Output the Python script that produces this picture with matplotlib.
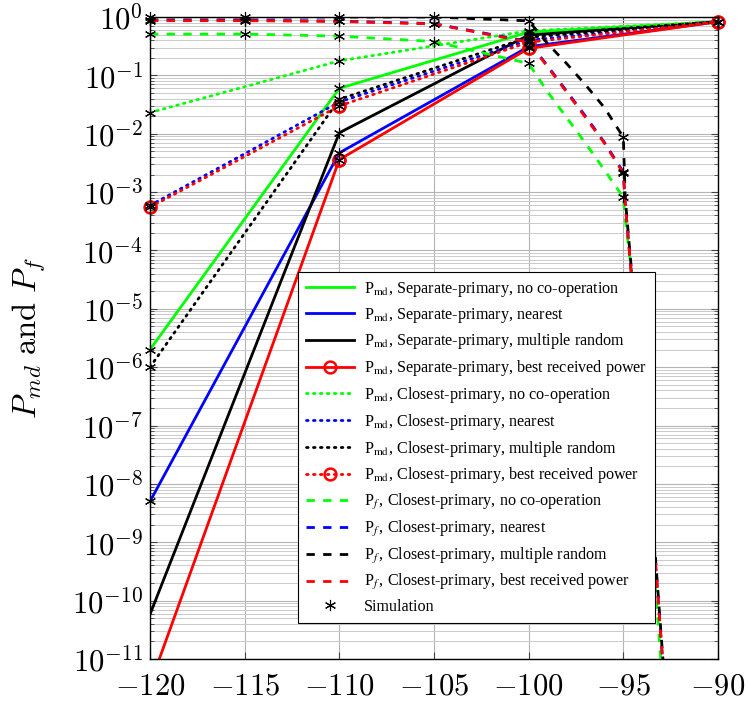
import numpy as np
import matplotlib
matplotlib.use("Agg")
import matplotlib.pyplot as plt
from matplotlib.ticker import LogLocator, FuncFormatter, NullFormatter
from matplotlib.font_manager import FontProperties

plt.rcParams["mathtext.fontset"] = "cm"

# ---- P_md curves (solid: separate-primary, dotted: closest-primary) ----
x_md = [-120, -110, -100, -90]
md_sep_nocoop = [2.0e-6, 0.060, 0.55, 0.83]
md_sep_nearest = [5.0e-9, 4.7e-3, 0.31, 0.83]
md_sep_multi = [5.8e-11, 0.0104, 0.49, 0.83]
md_sep_best = [3.6e-12, 3.6e-3, 0.29, 0.83]
md_clo_nocoop = [0.023, 0.177, 0.58, 0.83]
md_clo_nearest = [5.9e-4, 0.035, 0.40, 0.83]
md_clo_multi = [1.0e-6, 0.039, 0.45, 0.83]
md_clo_best = [5.5e-4, 0.030, 0.37, 0.83]

# ---- P_f curves (dashed, closest-primary) ----
x_pf = [-120, -115, -110, -105, -100, -99, -98, -97, -96, -95,
        -94.9, -94.5, -94, -93.5, -93, -92.5]
pf_nocoop = [0.51, 0.51, 0.47, 0.38, 0.16, 0.052, 0.019, 6.9e-3, 2.4e-3, 8.1e-4,
             3.5e-4, 2.8e-5, 1.6e-7, 1.3e-9, 7.9e-12, 5.0e-14]
pf_nearest = [0.88, 0.88, 0.85, 0.77, 0.38, 0.145, 0.054, 0.020, 7.1e-3, 2.2e-3,
              6.5e-4, 2.1e-5, 2.6e-7, 3.3e-9, 2.1e-11, 1.4e-13]
pf_multi = [1.0, 1.0, 1.0, 1.0, 0.86, 0.35, 0.16, 0.069, 0.028, 8.7e-3,
            7.9e-4, 2.5e-5, 3.2e-7, 4.0e-9, 2.5e-11, 1.6e-13]
pf_best = [0.865, 0.865, 0.84, 0.76, 0.37, 0.14, 0.052, 0.019, 6.9e-3, 2.1e-3,
           6.3e-4, 2.0e-5, 2.5e-7, 3.2e-9, 2.0e-11, 1.3e-13]

# x positions where simulation points were taken for P_f
x_sim_pf = [-120, -115, -110, -105, -100, -95]

xticks = [-120, -115, -110, -105, -100, -95, -90]
ydecades = list(range(0, 12))
ymin, ymax = 1e-11, 1.0

fig = plt.figure(figsize=(7.48, 7.03), dpi=100)
ax = fig.add_axes([0.2005, 0.0626, 0.7594, 0.9132])

lw = 2.0
dotted = (0, (0.6, 1.9))
dashed = (0, (3, 3))
circ = dict(marker="o", markersize=8.5, markerfacecolor="none", markeredgewidth=1.8)

ax.plot(x_md, md_sep_nocoop, color="#00ff00", lw=lw, label=r"P$_{\mathrm{md}}$, Separate-primary, no co-operation")
ax.plot(x_md, md_sep_nearest, color="#0000ff", lw=lw, label=r"P$_{\mathrm{md}}$, Separate-primary, nearest")
ax.plot(x_md, md_sep_multi, color="black", lw=lw, label=r"P$_{\mathrm{md}}$, Separate-primary, multiple random")
ax.plot(x_md, md_sep_best, color="#ff0000", lw=lw, markeredgecolor="#ff0000", **circ,
        label=r"P$_{\mathrm{md}}$, Separate-primary, best received power")
ax.plot(x_md, md_clo_nocoop, color="#00ff00", lw=lw, ls=dotted, dash_capstyle="round",
        label=r"P$_{\mathrm{md}}$, Closest-primary, no co-operation")
ax.plot(x_md, md_clo_nearest, color="#0000ff", lw=lw, ls=dotted, dash_capstyle="round",
        label=r"P$_{\mathrm{md}}$, Closest-primary, nearest")
ax.plot(x_md, md_clo_multi, color="black", lw=lw, ls=dotted, dash_capstyle="round",
        label=r"P$_{\mathrm{md}}$, Closest-primary, multiple random")
ax.plot(x_md, md_clo_best, color="#ff0000", lw=lw, ls=dotted, dash_capstyle="round",
        markeredgecolor="#ff0000", **circ,
        label=r"P$_{\mathrm{md}}$, Closest-primary, best received power")
ax.plot(x_pf, pf_nocoop, color="#00ff00", lw=lw, ls=dashed,
        label=r"P$_f\,$, Closest-primary, no co-operation")
ax.plot(x_pf, pf_nearest, color="#0000ff", lw=lw, ls=dashed,
        label=r"P$_f\,$, Closest-primary, nearest")
ax.plot(x_pf, pf_multi, color="black", lw=lw, ls=dashed,
        label=r"P$_f\,$, Closest-primary, multiple random")
ax.plot(x_pf, pf_best, color="#ff0000", lw=lw, ls=dashed,
        label=r"P$_f\,$, Closest-primary, best received power")

# circle markers on the axis edges should not be cut off
for ys in [md_sep_best, md_clo_best]:
    pts = [(xv, yv) for xv, yv in zip(x_md, ys) if ymin <= yv <= ymax]
    ax.plot([p[0] for p in pts], [p[1] for p in pts], ls="none", markeredgecolor="#ff0000",
            clip_on=False, **circ)

# simulation points (asterisks)
sim_x, sim_y = [], []
for ys in [md_sep_nocoop, md_sep_nearest, md_sep_multi, md_sep_best,
           md_clo_nocoop, md_clo_nearest, md_clo_multi, md_clo_best]:
    for xv, yv in zip(x_md, ys):
        if yv > 1e-10:
            sim_x.append(xv)
            sim_y.append(yv)
for ys in [pf_nocoop, pf_nearest, pf_multi, pf_best]:
    for xv, yv in zip(x_pf, ys):
        if xv in x_sim_pf:
            sim_x.append(xv)
            sim_y.append(yv)
ax.plot(sim_x, sim_y, ls="none", marker=(6, 2, 0), markersize=8, color="black",
        markeredgewidth=0.8, label="Simulation", zorder=5, clip_on=False)

ax.set_yscale("log")
ax.set_xlim(-120, -90)
ax.set_ylim(ymin, ymax)
ax.set_xticks(xticks)
ax.xaxis.set_major_formatter(FuncFormatter(lambda v, p: r"$%d$" % v))
ax.set_yticks([10.0 ** -k for k in ydecades])
ax.yaxis.set_major_formatter(FuncFormatter(lambda v, p: r"$10^{%d}$" % round(np.log10(v))))
ax.yaxis.set_minor_locator(LogLocator(base=10, subs=np.arange(2, 10), numticks=100))
ax.yaxis.set_minor_formatter(NullFormatter())

ax.grid(True, which="major", color="#b4b4b4", lw=0.8)
ax.grid(True, which="minor", axis="y", color="#cacaca", lw=0.7)
ax.set_axisbelow(True)
ax.tick_params(which="both", direction="in", top=True, right=True, labelsize=22, color="#444444")
ax.tick_params(which="major", length=5, width=0.8)
ax.tick_params(which="minor", length=3, width=0.6)
ax.tick_params(axis="x", pad=9)
ax.tick_params(axis="y", pad=5)
for s in ax.spines.values():
    s.set_linewidth(1.0)
    s.set_color("black")

ax.set_ylabel(r"$P_{md}\ \mathrm{and}\ P_f$", fontsize=23.5)
ax.yaxis.set_label_coords(-0.182, 0.5)

leg_font = FontProperties(family=["Liberation Serif", "DejaVu Serif"], size=11.6,
                          math_fontfamily="stix")
leg = ax.legend(loc="upper left", bbox_to_anchor=(0.2606, 0.603), prop=leg_font,
                handlelength=3.0, handletextpad=0.6, labelspacing=0.42, borderpad=0.5,
                borderaxespad=0, fancybox=False, framealpha=1, edgecolor="black",
                numpoints=1)
leg.get_frame().set_linewidth(0.8)
leg.set_zorder(10)

fig.savefig("out.png", dpi=100)
